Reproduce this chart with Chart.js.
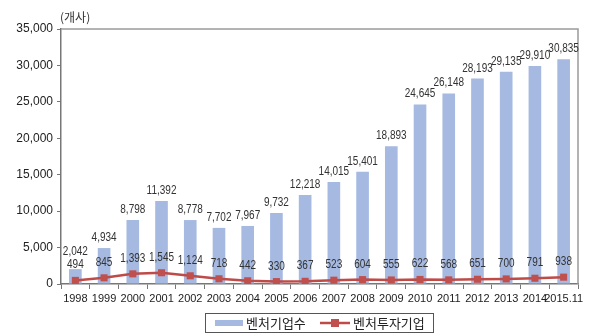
<!DOCTYPE html>
<html><head><meta charset="utf-8">
<script src="https://cdn.jsdelivr.net/npm/chart.js@4/dist/chart.umd.min.js"></script>
<style>html,body{margin:0;padding:0;background:#fff}#wrap{width:600px;height:335px}</style>
</head><body><div id="wrap"><canvas id="c" width="600" height="335"></canvas></div>
<script>
const categories = ['1998','1999','2000','2001','2002','2003','2004','2005','2006','2007','2008','2009','2010','2011','2012','2013','2014','2015.11'];
const ventureFirms = [2042,4934,8798,11392,8778,7702,7967,9732,12218,14015,15401,18893,24645,26148,28193,29135,29910,30835];
const ventureInvested = [494,845,1393,1545,1124,718,442,330,367,523,604,555,622,568,651,700,791,938];
const yTicks = [0,5000,10000,15000,20000,25000,30000,35000];
const unitLabel = '(개사)';
const seriesNames = ['벤처기업수','벤처투자기업'];

const BAR = '#a5b9e1', LINE = '#be4b48', MARK = '#c0504d';
const fmt = v => v.toLocaleString('en-US');

function narrowText(ctx, text, x, y, sx) {
  ctx.save(); ctx.translate(x, y); ctx.scale(sx, 1); ctx.fillText(text, 0, 0); ctx.restore();
}

const extras = {
  id: 'extras',
  afterDatasetsDraw(chart) {
    const ctx = chart.ctx, a = chart.chartArea;
    ctx.save();
    ctx.strokeStyle = '#9a9a9a'; ctx.lineWidth = 1.5;
    ctx.beginPath(); ctx.moveTo(a.left, a.top); ctx.lineTo(a.right, a.top); ctx.lineTo(a.right, a.bottom); ctx.stroke();
    ctx.fillStyle = '#333'; ctx.textAlign = 'center'; ctx.textBaseline = 'alphabetic';
    ctx.font = "12.5px 'Liberation Sans',sans-serif";
    const barIdx = chart.data.datasets.findIndex(d => d.type === 'bar');
    const lineIdx = chart.data.datasets.findIndex(d => d.type === 'line');
    const lineEls = chart.getDatasetMeta(lineIdx).data;
    lineEls.forEach((el, i) => {
      narrowText(ctx, fmt(ventureInvested[i]), el.x, el.y - 12, 0.8);
    });
    chart.getDatasetMeta(barIdx).data.forEach((el, i) => {
      let y = el.y - 7;
      const ly = lineEls[i].y - 12;
      if (y > ly - 13) y = ly - 13;
      narrowText(ctx, fmt(ventureFirms[i]), el.x, y, 0.8);
    });
    ctx.textAlign = 'left'; ctx.font = "12px 'Noto Sans CJK KR',sans-serif"; ctx.fillStyle = '#333';
    ctx.fillText(unitLabel, a.left - 1, a.top - 7);
    // legend
    const lx = 205, ly = 313, lw = 228, lh = 19;
    ctx.strokeStyle = '#555'; ctx.lineWidth = 1;
    ctx.strokeRect(lx + 0.5, ly + 0.5, lw, lh);
    const cy = ly + lh / 2 + 0.5;
    ctx.fillStyle = BAR; ctx.fillRect(215, cy - 3, 28, 6);
    ctx.fillStyle = '#222'; ctx.font = "13px 'Noto Sans CJK KR',sans-serif"; ctx.textBaseline = 'middle';
    ctx.fillText(seriesNames[0], 246, cy);
    ctx.strokeStyle = LINE; ctx.lineWidth = 2.5;
    ctx.beginPath(); ctx.moveTo(320, cy); ctx.lineTo(350, cy); ctx.stroke();
    ctx.fillStyle = MARK; ctx.fillRect(331, cy - 4, 8, 8);
    ctx.fillStyle = '#222';
    ctx.fillText(seriesNames[1], 353, cy);
    ctx.restore();
  }
};

new Chart(document.getElementById('c'), {
  data: {
    labels: categories,
    datasets: [
      { type: 'line', label: seriesNames[1], data: ventureInvested, borderColor: LINE, backgroundColor: MARK,
        borderWidth: 2.5, pointStyle: 'rect', pointRadius: 5, pointBorderWidth: 0, pointBackgroundColor: MARK, tension: 0, order: 0 },
      { type: 'bar', label: seriesNames[0], data: ventureFirms, backgroundColor: BAR, borderWidth: 0,
        barPercentage: 0.44, categoryPercentage: 1, order: 1 }
    ]
  },
  options: {
    responsive: false, animation: false, devicePixelRatio: 1,
    layout: { padding: { left: 0, right: 22, top: 29, bottom: 29 } },
    plugins: { legend: { display: false }, tooltip: { enabled: false } },
    scales: {
      x: {
        offset: true,
        grid: { display: true, offset: true, drawOnChartArea: false, drawTicks: true, tickLength: 5, color: '#777', tickWidth: 1 },
        border: { color: '#777', width: 1.5 },
        ticks: { color: '#222', font: { family: "'Liberation Sans',sans-serif", size: 11 }, maxRotation: 0, autoSkip: false, padding: 3 },
        afterFit(s) { s.height = 22; }
      },
      y: {
        min: 0, max: 35000,
        afterBuildTicks(s) { s.ticks = yTicks.map(v => ({ value: v })); },
        grid: { display: true, drawOnChartArea: false, tickLength: 4, color: '#777' },
        border: { color: '#777', width: 1.5 },
        ticks: { color: '#222', font: { family: "'Liberation Sans',sans-serif", size: 12 }, padding: 4, callback: v => fmt(v) },
        afterFit(s) { s.width = 61; }
      }
    }
  },
  plugins: [extras]
});
</script></body></html>
